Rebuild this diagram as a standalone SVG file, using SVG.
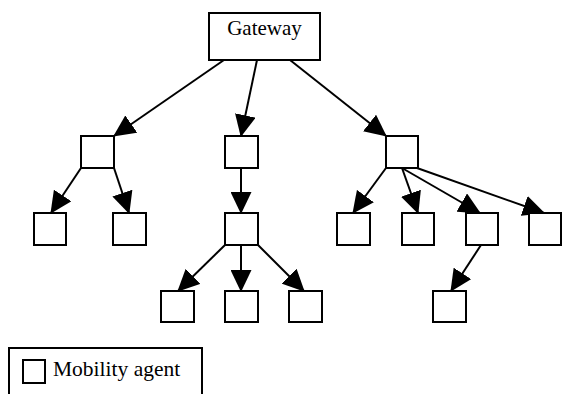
<svg xmlns="http://www.w3.org/2000/svg" width="562" height="394" viewBox="0 0 562 394">
<style>
.box{fill:#fff;stroke:#000;stroke-width:2}
.edge{stroke:#000;stroke-width:2;fill:none;marker-end:url(#ah)}
.t{font-family:"Liberation Serif","Times New Roman",serif;fill:#000}
</style>
<defs>
<marker id="ah" markerUnits="userSpaceOnUse" markerWidth="22" markerHeight="21" refX="21" refY="10.5" orient="auto" viewBox="0 0 22 21">
<path d="M0,0 L22,10.5 L0,21 z" fill="#000"/>
</marker>
</defs>
<rect width="562" height="394" fill="#fff"/>
<g id="connectors">
<line class="edge" x1="224" y1="60" x2="114" y2="136"/>
<line class="edge" x1="257" y1="60" x2="241" y2="136"/>
<line class="edge" x1="290" y1="60" x2="386" y2="136"/>
<line class="edge" x1="81" y1="168" x2="51" y2="213"/>
<line class="edge" x1="114" y1="168" x2="129" y2="213"/>
<line class="edge" x1="241" y1="168" x2="241" y2="213"/>
<line class="edge" x1="225" y1="245" x2="178" y2="291"/>
<line class="edge" x1="241" y1="245" x2="241" y2="291"/>
<line class="edge" x1="258" y1="245" x2="304" y2="291"/>
<line class="edge" x1="386" y1="168" x2="353" y2="213"/>
<line class="edge" x1="402" y1="168" x2="418" y2="213"/>
<line class="edge" x1="402" y1="168" x2="480" y2="213"/>
<line class="edge" x1="417" y1="168" x2="544" y2="213"/>
<line class="edge" x1="481" y1="245" x2="451" y2="291"/>
</g>
<g id="gateway">
<rect class="box" x="209" y="13" width="111" height="47"/>
<text class="t" x="264.5" y="35" font-size="21" text-anchor="middle">Gateway</text>
</g>
<g id="n1"><rect class="box" x="81" y="136" width="33" height="32"/></g>
<g id="n2"><rect class="box" x="225" y="136" width="33" height="32"/></g>
<g id="n3"><rect class="box" x="386" y="136" width="32" height="32"/></g>
<g id="n4"><rect class="box" x="34" y="213" width="32" height="32"/></g>
<g id="n5"><rect class="box" x="113" y="213" width="33" height="32"/></g>
<g id="n6"><rect class="box" x="225" y="213" width="33" height="32"/></g>
<g id="n7"><rect class="box" x="337" y="213" width="33" height="32"/></g>
<g id="n8"><rect class="box" x="402" y="213" width="32" height="32"/></g>
<g id="n9"><rect class="box" x="466" y="213" width="32" height="32"/></g>
<g id="n10"><rect class="box" x="529" y="213" width="32" height="32"/></g>
<g id="n11"><rect class="box" x="161" y="291" width="33" height="31"/></g>
<g id="n12"><rect class="box" x="225" y="291" width="33" height="31"/></g>
<g id="n13"><rect class="box" x="289" y="291" width="33" height="31"/></g>
<g id="n14"><rect class="box" x="433" y="291" width="33" height="31"/></g>
<g id="legend">
<rect class="box" x="9" y="348" width="193" height="60"/>
<rect class="box" x="23" y="360" width="22" height="23"/>
<text class="t" x="53" y="376" font-size="21.5">Mobility agent</text>
</g>
</svg>
